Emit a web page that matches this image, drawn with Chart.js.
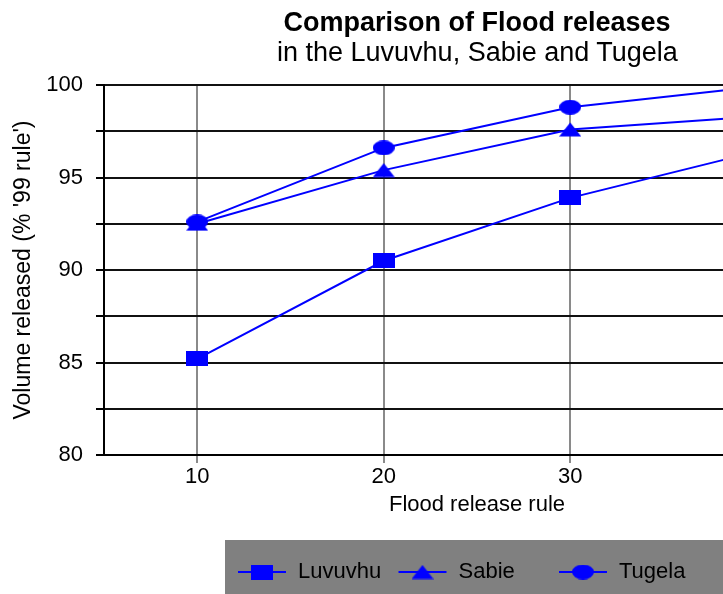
<!DOCTYPE html>
<html lang="en">
<head>
<meta charset="UTF-8">
<title>Comparison of Flood releases</title>
<script src="https://cdn.jsdelivr.net/npm/chart.js"></script>
<style>
    body {
        margin: 0;
        width: 723px;
        height: 594px;
        overflow: hidden;
        background: #fff;
        font-family: Arial, "Liberation Sans", sans-serif;
    }
    #wrap {
        position: relative;
        width: 860px;
        height: 594px;
    }
    .title {
        position: absolute;
        left: 277px;
        width: 400px;
        text-align: center;
        font-size: 27px;
        line-height: 27px;
        color: #000;
        white-space: nowrap;
    }
    #t1 { top: 9px; font-weight: bold; }
    #t2 { top: 39px; }
</style>
</head>
<body>
<div id="wrap">
    <canvas id="chart" width="860" height="594"></canvas>
    <div class="title" id="t1">Comparison of Flood releases</div>
    <div class="title" id="t2">in the Luvuvhu, Sabie and Tugela</div>
</div>
<script>
    const rules = ['10', '20', '30', '40'];
    const luvuvhu = [85.2, 90.5, 93.9, 96.4];
    const sabie = [92.5, 95.4, 97.6, 98.3];
    const tugela = [92.6, 96.6, 98.8, 99.9];
    const seriesNames = ['Luvuvhu', 'Sabie', 'Tugela'];

    const BLUE = '#0000ff';
    const FONT = 'Arial, "Liberation Sans", sans-serif';

    // marker shapes (wide, like the original)
    function marker(kind) {
        const c = document.createElement('canvas');
        c.width = 22; c.height = 15;
        const g = c.getContext('2d');
        g.fillStyle = BLUE;
        if (kind === 'rect') {
            g.fillRect(0, 0, 22, 15);
        } else if (kind === 'tri') {
            g.beginPath();
            g.moveTo(0, 14.5); g.lineTo(11, 0.5); g.lineTo(22, 14.5);
            g.closePath(); g.fill();
        } else {
            g.beginPath();
            g.ellipse(11, 7.5, 11, 7.4, 0, 0, Math.PI * 2);
            g.fill();
        }
        return c;
    }
    const markers = [marker('rect'), marker('tri'), marker('ellipse')];

    const legendBox = {
        id: 'legendBox',
        afterDraw(chart) {
            const ctx = chart.ctx;
            ctx.save();
            ctx.fillStyle = '#808080';
            ctx.fillRect(225, 540, 505, 60);
            ctx.font = '22px ' + FONT;
            ctx.textBaseline = 'middle';
            ctx.fillStyle = '#000';
            seriesNames.forEach((name, i) => {
                const x0 = 238 + i * 160.5;
                const y = 572;
                ctx.strokeStyle = BLUE;
                ctx.lineWidth = 2;
                ctx.beginPath();
                ctx.moveTo(x0, y); ctx.lineTo(x0 + 48, y);
                ctx.stroke();
                ctx.drawImage(markers[i], x0 + 24 - 11, y - 7.5);
                ctx.fillText(name, x0 + 60, y);
            });
            ctx.restore();
        }
    };

    function ds(label, data, i) {
        return {
            label: label,
            data: data,
            borderColor: BLUE,
            backgroundColor: BLUE,
            borderWidth: 2,
            tension: 0,
            pointStyle: markers[i],
            pointRadius: 8,
            pointHoverRadius: 8
        };
    }

    new Chart(document.getElementById('chart'), {
        type: 'line',
        data: {
            labels: rules,
            datasets: [ds('Luvuvhu', luvuvhu, 0), ds('Sabie', sabie, 1), ds('Tugela', tugela, 2)]
        },
        options: {
            responsive: false,
            animation: false,
            layout: { padding: { top: 85, bottom: 69, left: 0, right: 10 } },
            plugins: {
                legend: { display: false },
                tooltip: { enabled: false }
            },
            scales: {
                x: {
                    offset: true,
                    grid: { color: '#8a8a8a', lineWidth: 2, tickLength: 8, offset: false },
                    border: { color: '#000', width: 2 },
                    ticks: { color: '#000', font: { family: FONT, size: 22 }, padding: 1, maxRotation: 0 },
                    title: {
                        display: true,
                        text: 'Flood release rule',
                        color: '#000',
                        font: { family: FONT, size: 22 },
                        padding: { top: 0, bottom: 7 }
                    },
                    afterFit(scale) { scale.height = 70; }
                },
                y: {
                    min: 80,
                    max: 100,
                    grid: { color: '#111', lineWidth: 2, tickLength: 8, tickColor: '#000' },
                    border: { color: '#000', width: 2 },
                    ticks: {
                        stepSize: 2.5,
                        color: '#000',
                        padding: 13,
                        font: { family: FONT, size: 22 },
                        callback: v => (v % 5 === 0 ? v : '')
                    },
                    title: {
                        display: true,
                        text: "Volume released (% '99 rule')",
                        color: '#000',
                        font: { family: FONT, size: 23 },
                        padding: { top: 10, bottom: 0 }
                    },
                    afterFit(scale) { scale.width = 104; }
                }
            }
        },
        plugins: [legendBox]
    });
</script>
</body>
</html>
